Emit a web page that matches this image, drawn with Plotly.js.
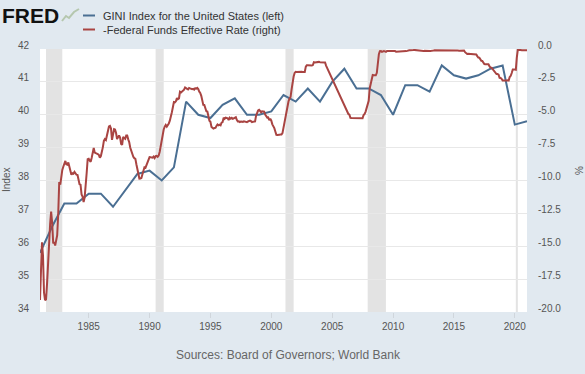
<!DOCTYPE html>
<html>
<head>
<meta charset="utf-8">
<script src="https://cdn.plot.ly/plotly-3.0.1.min.js"></script>
<style>
  html, body { margin: 0; padding: 0; background: #e1e9f0; }
  #chart { width: 585px; height: 374px; }
</style>
</head>
<body>
<div id="chart"></div>
<script>
// ---- Data ----
const giniYears = [1981,1982,1983,1984,1985,1986,1987,1988,1989,1990,
                   1991,1992,1993,1994,1995,1996,1997,1998,1999,2000,
                   2001,2002,2003,2004,2005,2006,2007,2008,2009,2010,
                   2011,2012,2013,2014,2015,2016,2017,2018,2019,2020,2021];
const giniIndex = [35.8,36.6,37.3,37.3,37.6,37.6,37.2,37.7,38.2,38.3,
                   38.0,38.4,40.4,40.0,39.9,40.3,40.5,40.0,40.0,40.1,
                   40.6,40.4,40.8,40.4,41.0,41.4,40.8,40.8,40.6,40.0,
                   40.9,40.9,40.7,41.5,41.2,41.1,41.2,41.4,41.5,39.7,39.8];

// Federal funds effective rate, monthly, starting Jan 1981 (percent)
const fedFundsStartYear = 1981;
const fedFundsRate = [
  19.08,15.93,14.70,15.72,18.52,19.10,19.04,17.82,15.87,15.08,13.31,12.37, // 1981
  13.22,14.78,14.68,14.94,14.45,14.15,12.59,10.12,10.31, 9.71, 9.20, 8.95, // 1982
   8.68, 8.51, 8.77, 8.80, 8.63, 8.98, 9.37, 9.56, 9.45, 9.48, 9.34, 9.47, // 1983
   9.56, 9.59, 9.91,10.29,10.32,11.06,11.23,11.64,11.30, 9.99, 9.43, 8.38, // 1984
   8.35, 8.50, 8.58, 8.27, 7.97, 7.53, 7.88, 7.90, 7.92, 7.99, 8.05, 8.27, // 1985
   8.14, 7.86, 7.48, 6.99, 6.85, 6.92, 6.56, 6.17, 5.89, 5.85, 6.04, 6.91, // 1986
   6.43, 6.10, 6.13, 6.37, 6.85, 6.73, 6.58, 6.73, 7.22, 7.29, 6.69, 6.77, // 1987
   6.83, 6.58, 6.58, 6.87, 7.09, 7.51, 7.75, 8.01, 8.19, 8.30, 8.35, 8.76, // 1988
   9.12, 9.36, 9.85, 9.84, 9.81, 9.53, 9.24, 8.99, 9.02, 8.84, 8.55, 8.45, // 1989
   8.23, 8.24, 8.28, 8.26, 8.18, 8.29, 8.15, 8.13, 8.20, 8.11, 7.81, 7.31, // 1990
   6.91, 6.25, 6.12, 5.91, 5.78, 5.90, 5.82, 5.66, 5.45, 5.21, 4.81, 4.43, // 1991
   4.03, 4.06, 3.98, 3.73, 3.82, 3.76, 3.25, 3.30, 3.22, 3.10, 3.09, 2.92, // 1992
   3.02, 3.03, 3.07, 2.96, 3.00, 3.04, 3.06, 3.03, 3.09, 2.99, 3.02, 2.96, // 1993
   3.05, 3.25, 3.34, 3.56, 4.01, 4.25, 4.26, 4.47, 4.73, 4.76, 5.29, 5.45, // 1994
   5.53, 5.92, 5.98, 6.05, 6.01, 6.00, 5.85, 5.74, 5.80, 5.76, 5.80, 5.60, // 1995
   5.56, 5.22, 5.31, 5.22, 5.24, 5.27, 5.40, 5.22, 5.30, 5.24, 5.31, 5.29, // 1996
   5.25, 5.19, 5.39, 5.51, 5.50, 5.56, 5.52, 5.54, 5.54, 5.50, 5.52, 5.50, // 1997
   5.56, 5.51, 5.49, 5.45, 5.49, 5.56, 5.54, 5.55, 5.51, 5.07, 4.83, 4.68, // 1998
   4.63, 4.76, 4.81, 4.74, 4.74, 4.76, 4.99, 5.07, 5.22, 5.20, 5.42, 5.30, // 1999
   5.45, 5.73, 5.85, 6.02, 6.27, 6.53, 6.54, 6.50, 6.52, 6.51, 6.51, 6.40, // 2000
   5.98, 5.49, 5.31, 4.80, 4.21, 3.97, 3.77, 3.65, 3.07, 2.49, 2.09, 1.82, // 2001
   1.73, 1.74, 1.73, 1.75, 1.75, 1.75, 1.73, 1.74, 1.75, 1.75, 1.34, 1.24, // 2002
   1.24, 1.26, 1.25, 1.26, 1.26, 1.22, 1.01, 1.03, 1.01, 1.01, 1.00, 0.98, // 2003
   1.00, 1.01, 1.00, 1.00, 1.00, 1.03, 1.26, 1.43, 1.61, 1.76, 1.93, 2.16, // 2004
   2.28, 2.50, 2.63, 2.79, 3.00, 3.04, 3.26, 3.50, 3.62, 3.78, 4.00, 4.16, // 2005
   4.29, 4.49, 4.59, 4.79, 4.94, 4.99, 5.24, 5.25, 5.25, 5.25, 5.25, 5.24, // 2006
   5.25, 5.26, 5.26, 5.25, 5.25, 5.25, 5.26, 5.02, 4.94, 4.76, 4.49, 4.24, // 2007
   3.94, 2.98, 2.61, 2.28, 1.98, 2.00, 2.01, 2.00, 1.81, 0.97, 0.39, 0.16, // 2008
   0.15, 0.22, 0.18, 0.15, 0.18, 0.21, 0.16, 0.16, 0.15, 0.12, 0.12, 0.12, // 2009
   0.11, 0.13, 0.16, 0.20, 0.20, 0.18, 0.18, 0.19, 0.19, 0.19, 0.19, 0.18, // 2010
   0.17, 0.16, 0.14, 0.10, 0.09, 0.09, 0.07, 0.10, 0.08, 0.07, 0.08, 0.07, // 2011
   0.08, 0.10, 0.13, 0.14, 0.16, 0.16, 0.16, 0.13, 0.14, 0.16, 0.16, 0.16, // 2012
   0.14, 0.15, 0.14, 0.15, 0.11, 0.09, 0.09, 0.08, 0.08, 0.09, 0.08, 0.09, // 2013
   0.07, 0.07, 0.08, 0.09, 0.09, 0.10, 0.09, 0.09, 0.09, 0.09, 0.09, 0.12, // 2014
   0.11, 0.11, 0.11, 0.12, 0.12, 0.13, 0.13, 0.14, 0.14, 0.12, 0.12, 0.24, // 2015
   0.34, 0.38, 0.36, 0.37, 0.37, 0.38, 0.39, 0.40, 0.40, 0.40, 0.41, 0.54, // 2016
   0.65, 0.66, 0.79, 0.90, 0.91, 1.04, 1.15, 1.16, 1.15, 1.15, 1.16, 1.30, // 2017
   1.41, 1.42, 1.51, 1.69, 1.70, 1.82, 1.91, 1.91, 1.95, 2.19, 2.20, 2.27, // 2018
   2.40, 2.40, 2.41, 2.42, 2.39, 2.38, 2.40, 2.13, 2.04, 1.83, 1.55, 1.55, // 2019
   1.55, 1.58, 0.65, 0.05, 0.05, 0.08, 0.09, 0.10, 0.09, 0.09, 0.09, 0.09, // 2020
   0.09                                                                    // 2021
];

const recessionStarts = ['1981-07-01','1990-07-01','2001-03-01','2007-12-01','2020-02-01'];
const recessionEnds   = ['1982-11-01','1991-03-01','2001-11-01','2009-06-01','2020-04-01'];

const xTickYears = [1985,1990,1995,2000,2005,2010,2015,2020];
const leftTicks  = [34,35,36,37,38,39,40,41,42];
const rightTicks = [-20,-17.5,-15,-12.5,-10,-7.5,-5,-2.5,0];

const giniName = 'GINI Index for the United States (left)';
const ffName = '-Federal Funds Effective Rate (right)';
const sourceText = 'Sources: Board of Governors; World Bank';

// ---- Build traces ----
const giniDates = giniYears.map(y => y + '-01-01');
const ffDates = fedFundsRate.map((_, i) => {
  const y = fedFundsStartYear + Math.floor(i / 12);
  const m = (i % 12) + 1;
  return y + '-' + String(m).padStart(2, '0') + '-01';
});
const ffNegated = fedFundsRate.map(v => -v);

const BLUE = '#4a6f93';
const RED = '#a94442';
const FONT = '"Liberation Sans", Arial, sans-serif';

const traces = [
  { x: ffDates, y: ffNegated, yaxis: 'y2', type: 'scatter', mode: 'lines',
    name: ffName, line: { color: RED, width: 2 }, showlegend: false },
  { x: giniDates, y: giniIndex, yaxis: 'y', type: 'scatter', mode: 'lines',
    name: giniName, line: { color: BLUE, width: 2 }, showlegend: false }
];

// plot area: x 40..527 px, y 49..312 px
const PL = 40, PW = 487, PT = 49, PH = 263;
const px = v => (v - PL) / PW;
const py = v => (PT + PH - v) / PH;

const shapes = recessionStarts.map((s, i) => ({
  type: 'rect', xref: 'x', yref: 'paper', x0: s, x1: recessionEnds[i], y0: 0, y1: 1,
  fillcolor: '#e3e3e3', line: { width: 0 }, layer: 'below'
}));
// legend swatches
shapes.push({ type: 'line', xref: 'paper', yref: 'paper', x0: px(83), x1: px(95), y0: py(15.5), y1: py(15.5), line: { color: BLUE, width: 2 } });
shapes.push({ type: 'line', xref: 'paper', yref: 'paper', x0: px(83), x1: px(95), y0: py(29.5), y1: py(29.5), line: { color: RED, width: 2 } });
// small logo sparkline
shapes.push({ type: 'path', xref: 'paper', yref: 'paper',
  path: 'M ' + px(62) + ' ' + py(21) + ' L ' + px(66) + ' ' + py(16) + ' L ' + px(69) + ' ' + py(18) + ' L ' + px(74) + ' ' + py(12) + ' L ' + px(79) + ' ' + py(9),
  line: { color: '#b5c7ae', width: 2 } });

const annotations = [
  { xref: 'paper', yref: 'paper', x: px(0), y: py(15.5), xanchor: 'left', yanchor: 'middle',
    text: '<b>FRED</b>', showarrow: false, font: { family: FONT, size: 21, color: '#111' } },
  { xref: 'paper', yref: 'paper', x: px(101), y: py(15.5), xanchor: 'left', yanchor: 'middle',
    text: giniName, showarrow: false, font: { family: FONT, size: 11, color: '#333' } },
  { xref: 'paper', yref: 'paper', x: px(101), y: py(29.5), xanchor: 'left', yanchor: 'middle',
    text: ffName, showarrow: false, font: { family: FONT, size: 11, color: '#333' } },
  { xref: 'paper', yref: 'paper', x: px(288), y: py(355), xanchor: 'center', yanchor: 'middle',
    text: sourceText, showarrow: false, font: { family: FONT, size: 12, color: '#666' } },
  { xref: 'paper', yref: 'paper', x: px(6), y: py(180), xanchor: 'center', yanchor: 'middle',
    text: 'Index', textangle: -90, showarrow: false, font: { family: FONT, size: 10, color: '#555' } },
  { xref: 'paper', yref: 'paper', x: px(579), y: py(171), xanchor: 'center', yanchor: 'middle',
    text: '%', textangle: -90, showarrow: false, font: { family: FONT, size: 10, color: '#555' } }
];

const layout = {
  width: 585, height: 374,
  margin: { l: PL, r: 585 - PL - PW, t: PT, b: 374 - PT - PH, pad: 0 },
  paper_bgcolor: '#e1e9f0',
  plot_bgcolor: '#ffffff',
  font: { family: FONT, size: 10, color: '#555' },
  showlegend: false,
  hovermode: false,
  xaxis: {
    type: 'date',
    range: ['1981-01-01', '2021-01-01'],
    tickvals: xTickYears.map(y => y + '-01-01'),
    ticktext: xTickYears.map(String),
    ticks: 'outside', ticklen: 5, tickcolor: '#d0d6dc', tickwidth: 1,
    showgrid: false, zeroline: false, showline: false,
    tickfont: { family: FONT, size: 10, color: '#555' }
  },
  yaxis: {
    range: [34, 42],
    tickvals: leftTicks,
    ticktext: leftTicks.map(String),
    showgrid: true, gridcolor: '#e8e8e8', gridwidth: 1,
    zeroline: false, showline: false, ticks: '',
    ticklabelstandoff: 10, ticklabelshift: -4,
    tickfont: { family: FONT, size: 10, color: '#555' }
  },
  yaxis2: {
    range: [-20, 0],
    overlaying: 'y', side: 'right',
    tickvals: rightTicks,
    ticktext: rightTicks.map(v => v.toFixed(1)),
    showgrid: false, zeroline: false, showline: false, ticks: '',
    ticklabelstandoff: 10, ticklabelshift: -4,
    tickfont: { family: FONT, size: 10, color: '#555' }
  },
  shapes: shapes,
  annotations: annotations
};

Plotly.newPlot('chart', traces, layout, { staticPlot: true, displayModeBar: false });
</script>
</body>
</html>
